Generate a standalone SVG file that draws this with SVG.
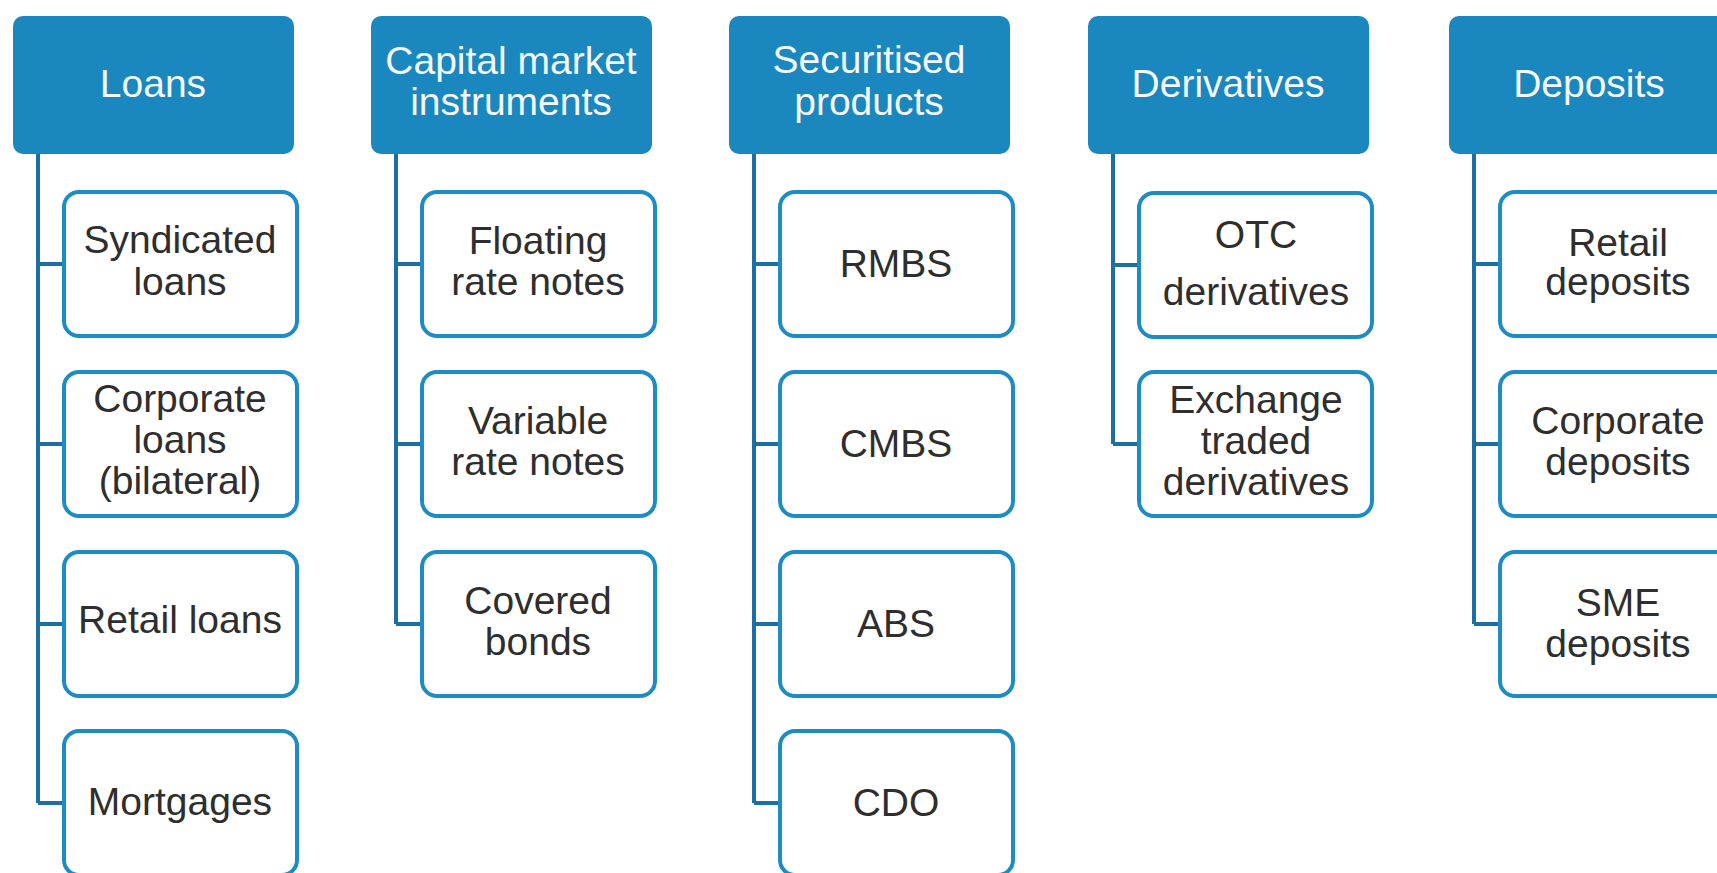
<svg xmlns="http://www.w3.org/2000/svg" width="1717" height="873" viewBox="0 0 1717 873">
<style>
.hdr{fill:#1a87bf;}
.box{fill:#ffffff;stroke:#1d8cc4;stroke-width:4;}
.ht{font-family:"Liberation Sans",Arial,sans-serif;font-size:39px;fill:#f4f8fb;text-anchor:middle;}
.bt{font-family:"Liberation Sans",Arial,sans-serif;font-size:39px;fill:#2e2e2e;text-anchor:middle;}
.con{fill:none;stroke:#1c6fa3;stroke-width:4;}
</style>
<rect width="1717" height="873" fill="#ffffff"/>
<g id="connectors">
<path class="con" d="M38 154 V803 M38 264 H64 M38 444 H64 M38 624 H64 M38 803 H64"/>
<path class="con" d="M396 154 V624 M396 264 H422 M396 444 H422 M396 624 H422"/>
<path class="con" d="M754 154 V803 M754 264 H780 M754 444 H780 M754 624 H780 M754 803 H780"/>
<path class="con" d="M1113 154 V444 M1113 265 H1139 M1113 444 H1139"/>
<path class="con" d="M1474 154 V624 M1474 264 H1500 M1474 444 H1500 M1474 624 H1500"/>
</g>
<g id="loans">
<rect class="hdr" x="13" y="16" width="281" height="138" rx="10"/>
<text class="ht" x="153" y="97">Loans</text>
</g>
<g id="syndicated-loans">
<rect class="box" x="64" y="192" width="233" height="144" rx="15"/>
<text class="bt" x="180" y="253">Syndicated</text>
<text class="bt" x="180" y="295">loans</text>
</g>
<g id="corporate-loans">
<rect class="box" x="64" y="372" width="233" height="144" rx="15"/>
<text class="bt" x="180" y="412">Corporate</text>
<text class="bt" x="180" y="453">loans</text>
<text class="bt" x="180" y="494">(bilateral)</text>
</g>
<g id="retail-loans">
<rect class="box" x="64" y="552" width="233" height="144" rx="15"/>
<text class="bt" x="180" y="633">Retail loans</text>
</g>
<g id="mortgages">
<rect class="box" x="64" y="731" width="233" height="144" rx="15"/>
<text class="bt" x="180" y="815">Mortgages</text>
</g>
<g id="capital-market-instruments">
<rect class="hdr" x="371" y="16" width="281" height="138" rx="10"/>
<text class="ht" x="511" y="74">Capital market</text>
<text class="ht" x="511" y="115">instruments</text>
</g>
<g id="floating-rate-notes">
<rect class="box" x="422" y="192" width="233" height="144" rx="15"/>
<text class="bt" x="538" y="254">Floating</text>
<text class="bt" x="538" y="295">rate notes</text>
</g>
<g id="variable-rate-notes">
<rect class="box" x="422" y="372" width="233" height="144" rx="15"/>
<text class="bt" x="538" y="434">Variable</text>
<text class="bt" x="538" y="475">rate notes</text>
</g>
<g id="covered-bonds">
<rect class="box" x="422" y="552" width="233" height="144" rx="15"/>
<text class="bt" x="538" y="614">Covered</text>
<text class="bt" x="538" y="655">bonds</text>
</g>
<g id="securitised-products">
<rect class="hdr" x="729" y="16" width="281" height="138" rx="10"/>
<text class="ht" x="869" y="73">Securitised</text>
<text class="ht" x="869" y="115">products</text>
</g>
<g id="rmbs">
<rect class="box" x="780" y="192" width="233" height="144" rx="15"/>
<text class="bt" x="896" y="277">RMBS</text>
</g>
<g id="cmbs">
<rect class="box" x="780" y="372" width="233" height="144" rx="15"/>
<text class="bt" x="896" y="457">CMBS</text>
</g>
<g id="abs">
<rect class="box" x="780" y="552" width="233" height="144" rx="15"/>
<text class="bt" x="896" y="637">ABS</text>
</g>
<g id="cdo">
<rect class="box" x="780" y="731" width="233" height="144" rx="15"/>
<text class="bt" x="896" y="816">CDO</text>
</g>
<g id="derivatives">
<rect class="hdr" x="1088" y="16" width="281" height="138" rx="10"/>
<text class="ht" x="1228" y="97">Derivatives</text>
</g>
<g id="otc-derivatives">
<rect class="box" x="1139" y="193" width="233" height="144" rx="15"/>
<text class="bt" x="1256" y="248">OTC</text>
<text class="bt" x="1256" y="305">derivatives</text>
</g>
<g id="exchange-traded-derivatives">
<rect class="box" x="1139" y="372" width="233" height="144" rx="15"/>
<text class="bt" x="1256" y="413">Exchange</text>
<text class="bt" x="1256" y="454">traded</text>
<text class="bt" x="1256" y="495">derivatives</text>
</g>
<g id="deposits">
<rect class="hdr" x="1449" y="16" width="281" height="138" rx="10"/>
<text class="ht" x="1589" y="97">Deposits</text>
</g>
<g id="retail-deposits">
<rect class="box" x="1500" y="192" width="233" height="144" rx="15"/>
<text class="bt" x="1618" y="256">Retail</text>
<text class="bt" x="1618" y="295">deposits</text>
</g>
<g id="corporate-deposits">
<rect class="box" x="1500" y="372" width="233" height="144" rx="15"/>
<text class="bt" x="1618" y="434">Corporate</text>
<text class="bt" x="1618" y="475">deposits</text>
</g>
<g id="sme-deposits">
<rect class="box" x="1500" y="552" width="233" height="144" rx="15"/>
<text class="bt" x="1618" y="616">SME</text>
<text class="bt" x="1618" y="657">deposits</text>
</g>
</svg>
